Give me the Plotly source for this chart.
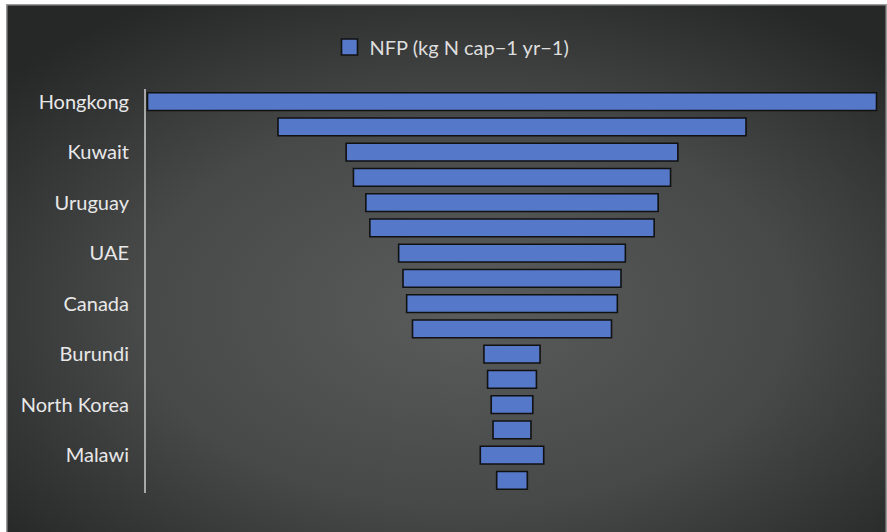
import base64
import plotly.graph_objects as go

# Per-capita nitrogen footprint, largest to smallest (kg N cap-1 yr-1)
countries = [
    "Hongkong", "Luxembourg", "Kuwait", "Bahrain", "Uruguay", "Australia",
    "UAE", "Ireland", "Canada", "USA", "Burundi", "Rwanda",
    "North Korea", "Ethiopia", "Malawi", "Haiti",
]
nfp = [100.0, 64.2, 45.5, 43.5, 40.1, 39.0, 31.1, 29.9,
       28.9, 27.3, 7.7, 6.7, 5.7, 5.2, 8.7, 4.2]
labelled = ["Hongkong", "Kuwait", "Uruguay", "UAE", "Canada",
            "Burundi", "North Korea", "Malawi"]
series_name = "NFP (kg N cap\u22121 yr\u22121)"

BAR_FILL = "#5578c8"
BAR_EDGE = "#111111"

W, H = 887, 532
ML, MR, MT, MB = 146, 9, 89, 39
pw, ph = W - ML - MR, H - MT - MB

# dark radial backdrop with a thin light frame
svg = """<svg xmlns='http://www.w3.org/2000/svg' width='881' height='528' viewBox='0 0 881 528'>
<defs><radialGradient id='g' cx='52%' cy='58%' r='68%'>
<stop offset='0%' stop-color='#5a5b5b'/>
<stop offset='55%' stop-color='#474848'/>
<stop offset='100%' stop-color='#262727'/>
</radialGradient></defs>
<rect x='0' y='0' width='881' height='528' fill='url(#g)'/>
<rect x='0.75' y='0.75' width='879.5' height='530' fill='none' stroke='#9a9a9a' stroke-width='1.5'/>
</svg>"""
bg_src = "data:image/svg+xml;base64," + base64.b64encode(svg.encode()).decode()

fig = go.Figure()
fig.add_trace(go.Funnel(
    y=countries,
    x=nfp,
    orientation="h",
    name=series_name,
    showlegend=False,
    textinfo="none",
    connector=dict(visible=False),
    marker=dict(color=BAR_FILL, line=dict(color=BAR_EDGE, width=1.6)),
))
# legend key drawn as a larger square swatch
fig.add_trace(go.Scatter(
    x=[None], y=[None], mode="markers", name=series_name,
    marker=dict(symbol="square", size=16, color=BAR_FILL,
                line=dict(color=BAR_EDGE, width=1.6)),
    hoverinfo="skip",
))

half = max(nfp) / 2 * pw / 729

fig.update_layout(
    width=W, height=H,
    margin=dict(l=ML, r=MR, t=MT, b=MB),
    paper_bgcolor="white",
    plot_bgcolor="rgba(0,0,0,0)",
    font=dict(family="Lato, 'Open Sans', sans-serif", color="#e4e4e4", size=20),
    funnelgap=0.3,
    xaxis=dict(visible=False, range=[-half, half], fixedrange=True),
    yaxis=dict(
        categoryorder="array", categoryarray=countries,
        range=[len(countries) - 0.5, -0.5],
        tickmode="array", tickvals=labelled, ticktext=labelled,
        showline=True, linecolor="#a8a8a8", linewidth=2,
        showgrid=False, zeroline=False, ticks="", ticklabelstandoff=11,
        tickfont=dict(size=20, color="#e8e8e8"),
    ),
    legend=dict(
        orientation="h", x=(452 - ML) / pw, xanchor="center",
        y=(H - MB - 47) / ph, yanchor="middle",
        bgcolor="rgba(0,0,0,0)", font=dict(size=20, color="#dedede"),
    ),
    images=[dict(
        source=bg_src, xref="paper", yref="paper",
        x=(6 - ML) / pw, y=(H - MB - 4) / ph,
        sizex=(W - 6) / pw, sizey=(H - 4) / ph,
        xanchor="left", yanchor="top", sizing="stretch", layer="below",
    )],
)

fig.write_html("out.html")
